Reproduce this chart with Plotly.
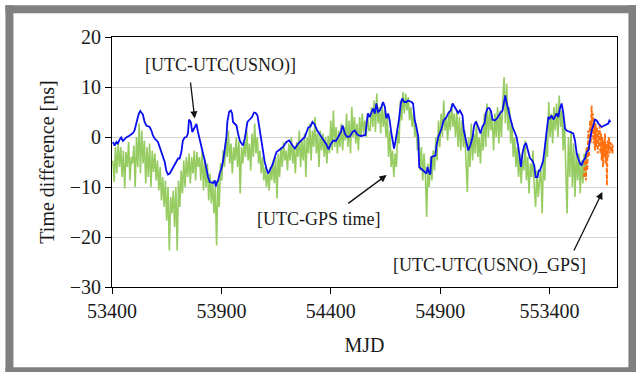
import plotly.graph_objects as go

# ---------------- data ----------------
# [UTC-UTC(USNO)]  (blue)
BLUE_MJD = [53404, 53412, 53420, 53427, 53435, 53442, 53450, 53465, 53481, 53496,
            53503, 53511, 53519, 53523, 53529, 53534, 53541, 53549, 53557, 53572,
            53580, 53587, 53595, 53610, 53618, 53625, 53633, 53641, 53648, 53656,
            53664, 53671, 53679, 53686, 53694, 53702, 53709, 53717, 53724, 53732,
            53740, 53747, 53752, 53760, 53767, 53775, 53786, 53793, 53801, 53809,
            53816, 53824, 53831, 53839, 53847, 53862, 53870, 53874, 53880, 53885,
            53892, 53900, 53908, 53915, 53923, 53927, 53930, 53935, 53943, 53949,
            53953, 53961, 53969, 53976, 53984, 53992, 53999, 54007, 54014, 54019,
            54025, 54033, 54040, 54049, 54057, 54065, 54071, 54077, 54083, 54091,
            54098, 54106, 54113, 54121, 54129, 54136, 54144, 54152, 54167, 54182,
            54197, 54210, 54225, 54236, 54251, 54266, 54281, 54297, 54307, 54316,
            54326, 54338, 54353, 54368, 54380, 54390, 54399, 54411, 54423, 54434,
            54446, 54454, 54464, 54475, 54487, 54499, 54510, 54521, 54536, 54548,
            54558, 54565, 54570, 54578, 54586, 54593, 54601, 54608, 54616, 54624,
            54631, 54639, 54647, 54654, 54662, 54669, 54677, 54685, 54689, 54695,
            54704, 54711, 54720, 54726, 54735, 54746, 54753, 54769, 54776, 54784,
            54791, 54799, 54804, 54811, 54822, 54830, 54837, 54842, 54848, 54855,
            54860, 54878, 54883, 54891, 54898, 54906, 54916, 54929, 54936, 54948,
            54957, 54966, 54974, 54982, 54990, 55002, 55008, 55016, 55023, 55028,
            55039, 55048, 55055, 55063, 55074, 55084, 55093, 55103, 55109, 55116,
            55124, 55132, 55139, 55150, 55161, 55173, 55185, 55193, 55197, 55203,
            55212, 55222, 55231, 55241, 55249, 55257, 55264, 55269, 55276, 55284,
            55292, 55299, 55310, 55322, 55330, 55336, 55345, 55351, 55356, 55371,
            55379, 55386, 55394, 55401, 55409, 55417, 55424, 55432, 55440, 55447,
            55455, 55463, 55470, 55478, 55493, 55508, 55516, 55524, 55531, 55539,
            55546, 55554, 55562, 55569, 55577, 55585, 55592, 55600, 55607, 55615,
            55623, 55638, 55653, 55668, 55673, 55679]
BLUE_NS = [-1.0, -1.7, -1.0, -1.3, -0.5, -0.1, -0.8, -0.1, 0.3, 0.8,
           1.3, 3.0, 4.1, 4.7, 5.2, 4.9, 4.5, 3.0, 2.3, 2.0,
           1.3, 0.3, -0.3, -1.0, -2.0, -3.0, -3.7, -5.0, -6.7, -7.5,
           -7.3, -6.7, -6.0, -5.7, -5.0, -4.3, -4.3, -3.0, -0.7, -0.1,
           0.0, 0.7, 3.5, 3.0, 1.0, 1.8, 2.6, 1.0, -0.3, -2.0,
           -3.3, -4.7, -6.3, -8.0, -9.0, -9.2, -8.7, -9.9, -9.0, -8.7,
           -7.3, -6.3, -4.7, -2.7, 0.0, 3.0, 4.0, 5.0, 5.3, 4.7,
           3.0, 2.7, 2.3, 0.7, -0.7, -1.3, -1.7, -0.3, 1.3, 3.0,
           3.3, 3.7, 4.0, 4.9, 4.8, 4.3, 2.7, 0.7, -1.3, -3.0,
           -5.0, -6.3, -7.3, -6.7, -6.0, -5.3, -4.0, -3.0, -2.5, -2.0,
           -1.0, -0.7, -1.7, -2.3, -1.3, -0.7, 0.0, 1.9, 2.1, 3.0,
           2.5, 1.3, 0.3, -0.7, -1.5, -2.5, -1.5, -0.7, -0.8, 0.0,
           1.0, 2.3, 0.7, 0.0, 0.1, 1.0, 1.3, 0.5, 0.2, 0.3,
           0.4, 3.2, 4.7, 4.0, 5.0, 5.7, 4.7, 6.7, 5.0, 5.3,
           6.0, 7.0, 6.0, 3.7, 4.7, 3.3, 0.7, -1.0, -2.3, -1.0,
           1.3, 3.3, 6.7, 7.7, 7.0, 7.0, 7.3, 7.0, 6.7, 3.3,
           2.0, 0.3, -6.0, -6.3, -6.7, -7.0, -7.3, -6.0, -7.0, -7.5,
           -4.0, -3.7, -1.7, 0.0, 0.7, 1.7, 3.3, 4.0, 4.7, 5.3,
           6.7, 6.0, 5.3, 4.8, 5.3, 4.3, 1.3, -0.3, -1.7, -2.7,
           -1.5, 0.0, 2.3, 3.1, 2.0, 0.7, 2.1, 2.8, 4.8, 5.7,
           5.8, 5.2, 3.5, 3.3, 3.8, 4.7, 5.3, 7.3, 8.3, 7.0,
           5.0, 3.5, 2.0, 1.0, 0.0, -2.0, -4.1, -6.0, -3.3, -1.7,
           -1.2, -2.5, -4.2, -4.8, -5.7, -8.0, -8.0, -6.7, -6.7, -4.7,
           -2.0, 0.7, 4.0, 3.7, 4.3, 3.5, 4.0, 4.7, 4.0, 5.7,
           6.7, 4.7, 1.7, 1.3, 1.0, 0.7, -0.7, -3.3, -4.3, -5.3,
           -5.7, -4.7, -4.3, -3.0, -2.7, 0.0, 1.3, 2.3, 3.5, 3.3,
           2.7, 2.0, 2.3, 2.7, 3.3, 3.0]

# [UTC-GPS time]  (green), sampled every GREEN_STEP days from GREEN_START
GREEN_START = 53404
GREEN_STEP = 6
GREEN_NS = [
    # 53404 ...
    -4.7, -9, -2, -7.3, -1.3, -6, -2, -8, -2.7, -10.3,
    -3, -6, -1, -8.7, -4, -5.3, -1.7, -10, 0, -6,
    2.7, -7.3, 1.3, -5.3, -0.7, -9.3, -2, -8, -1.3, -10,
    -2.7, -7, -3.3, -8.7, -4.7, -10.7, -6, -12.7, -8, -14,
    -8.7, -16.7, -10, -22.7, -12, -15.3, -10.7, -18, -10, -22.7,
    -8.7, -14, -6.7, -11.3, -4.7, -10, -4, -8, -3.3, -9.3,
    -4, -7.3, -2.7, -8.7, -3, -6,
    # 53800 ...
    -4, -8.7, -2.7, -10.7, -4.7, -10, -5.3, -12.7, -7.3, -13.3,
    -8.7, -15.3, -10, -21.7, -8.7, -14, -5.3, -8.7, -2.7, -6,
    -0.3, -4, 1.3, -5.3, -1.3, -7.3, -2, -4.7, 0, -6,
    -0.7, -11.3, -2, -5.3, -0.7, -4, 1.3, -4.7, -1.3, -6.7,
    0.7, -4, 2.7, -3.3, 0, -5.3, -2.7, -7.3, -4, -8.7,
    -6, -10, -6.7, -10.7, -6, -8.7, -4.7, -9.3, -4, -12.3,
    -3.3, -8, -2, -6, -1, -4.7,
    # 54196 ...
    -2.7, -6.7, -1.3, -4.7, 0, -5.3, -2, -7.3, -1, -4,
    1.3, -6, -0.7, -4.7, 0.7, -8, 0, -3.3, 2.7, -4.7,
    1.3, -2, 4, -3.3, 0.7, -6, 1.3, -2.7, 0.7, -4,
    0, -5.3, 0.3, -3.3, 3.3, -2.7, 5.3, -2, 2, -3.3,
    1.3, -2, 2.7, -2.7, 2, -0.7, 4.7, -2, 3.3, -3.3,
    6, 0, 4, -1.3, 2.7, -2.7, 4, 0, 4.7, 0.7,
    3.3, 0, 4.7, 1.3,
    # 54580 ...
    1.3, 6, 2, 7.3, 1, 8.7, 2.7, 6, 0.7, 6.7,
    2, 5.3, 0, 4, -4, 1.3, -6, -2.7, -8, -3.3,
    -6, 1.3, -1.3, 7.3, 3.3, 9, 4.7, 8.7, 5.3, 8,
    3.3, 6, 2, 4.7, 0, 2.7, -2.7, 0, -6.7, -2,
    -8.7, -3.3, -7.3, -16, -5.3, -10, -4, -8.7, -2.7, -6.7,
    0, -4.7, 3.3, -2, 4.7, 0, 7.3, 1.3, 4, -0.7,
    5.3, 1.3, 6.7, 2, 4.7,
    # 54970 ...
    0, 5.3, -2, 4, -2.7, 3.3, -2, 1.3, -6.7, -11,
    0, -6, 2.7, -4.7, 0.7, -3.3, 3.3, -4, 0, -5.3,
    1.3, -2.7, 4.7, -2, 6.7, 0, 5.3, 1.3, 4, -2.7,
    4.7, 0, 6, -1.3, 5.3, 0, 7.3, 12, 2.7, 10.7,
    1.3, 6, -1.3, 2.7, -4, 0, -6, -2, -8, -3.3,
    -9.3, -4.7, -6.7, -0.7, -8.7, -4, -11.3, -5.3, -8, -2.7,
    -10, -14, -6.7, -12, -8.7,
    # 55360 ...
    -6.7, -15.3, -4, -8.7, 0, -4, 7, 0, 4.7, -1.3,
    6, 1.3, 6.7, 0, 8.3, 2, 5.3, -2.7, 3.3, -6.7,
    -15.3, 0, -8, 1.3, -10, -1.3, -12, -2.7, -8.7, -3.3,
    -11.3, -4.7, -9.3, -3.3, -8, -2,
]

# [UTC-UTC(USNO)_GPS]  (orange, dashed)
ORANGE_MJD = [55557, 55562, 55566, 55569, 55572, 55577, 55580, 55585, 55588, 55592,
              55595, 55598, 55601, 55604, 55607, 55610, 55613, 55617, 55620, 55623,
              55626, 55629, 55632, 55635, 55638, 55641, 55644, 55647, 55650, 55653,
              55656, 55659, 55662, 55665, 55668, 55671, 55674, 55678, 55681, 55684,
              55687, 55690]
ORANGE_NS = [-8, -4, -8.7, -2, -6.7, 1.3, -4, 3.3, -1.3, 6.3,
             0, 4.7, -1.3, 3.3, -2.7, 2.7, -2, 2, -3.3, 1.3,
             -2, 2.7, -3.3, 0.7, -4.7, 0, -6, -0.7, -4, 0.7,
             -5.3, -1.3, -9.7, -0.7, -4, 0, -3.3, -1, -3, -1.3,
             -3.3, -1.7]

X_TICKS = [53400, 53900, 54400, 54900, 55400]
X_TICK_TEXT = ["53400", "53900", "54400", "54900", "553400"]
Y_TICKS = [-30, -20, -10, 0, 10, 20]

GREEN_MJD = [GREEN_START + GREEN_STEP * i for i in range(len(GREEN_NS))]

# ---------------- figure ----------------
FONT = "Liberation Serif, Times New Roman, serif"
W, H = 636, 372
ML, MR, MT, MB = 112.4, 19.4, 36.7, 85.3
PW, PH = W - ML - MR, H - MT - MB


def px(x):
    return (x - ML) / PW


def py(y):
    return (H - MB - y) / PH


fig = go.Figure()
fig.add_trace(go.Scatter(x=GREEN_MJD, y=GREEN_NS, mode="lines",
                         line=dict(color="#97cc62", width=1.6), name="UTC-GPS time"))
fig.add_trace(go.Scatter(x=ORANGE_MJD, y=ORANGE_NS, mode="lines",
                         line=dict(color="#ff7010", width=1.9, dash="4px,2px"),
                         name="UTC-UTC(USNO)_GPS"))
fig.add_trace(go.Scatter(x=BLUE_MJD, y=BLUE_NS, mode="lines",
                         line=dict(color="#0a0ff0", width=1.8), name="UTC-UTC(USNO)"))

# gray picture frame
GRAY = "#808080"
shapes = []
for (x0, y0, x1, y1) in [(6, 5, 14, 372), (628, 5, 640, 372), (6, 5, 640, 13), (6, 367, 640, 375)]:
    shapes.append(dict(type="rect", xref="paper", yref="paper",
                       x0=px(x0), x1=px(x1), y0=py(y1), y1=py(y0),
                       fillcolor=GRAY, line=dict(width=0), layer="above"))

txt = dict(family=FONT, size=18, color="#1a1a1a")
annotations = [
    dict(x=53894, y=14.3, text="[UTC-UTC(USNO)]", showarrow=False, font=txt,
         xref="x", yref="y"),
    dict(x=54345, y=-16.3, text="[UTC-GPS time]", showarrow=False, font=txt,
         xref="x", yref="y"),
    dict(x=55127, y=-25.7, text="[UTC-UTC(USNO)_GPS]", showarrow=False, font=txt,
         xref="x", yref="y"),
]
for (hx, hy, tx, ty) in [(53778, 3.7, 53758, 11.2),
                         (54655, -7.6, 54473, -13.5),
                         (55641, -11.0, 55508, -23.0)]:
    annotations.append(dict(x=hx, y=hy, ax=tx, ay=ty, xref="x", yref="y",
                            axref="x", ayref="y", text="", showarrow=True,
                            arrowhead=2, arrowsize=1.1, arrowwidth=1.3,
                            arrowcolor="#111111", standoff=0, startstandoff=0))

fig.update_layout(
    width=W, height=H,
    margin=dict(l=ML, r=MR, t=MT, b=MB, pad=0),
    paper_bgcolor="white", plot_bgcolor="white",
    showlegend=False,
    font=dict(family=FONT, size=20, color="#1a1a1a"),
    shapes=shapes,
    annotations=annotations,
    xaxis=dict(range=[53400, 55708], tickvals=X_TICKS, ticktext=X_TICK_TEXT,
               ticks="outside", ticklen=6, tickwidth=1, tickcolor="black",
               showline=True, linecolor="black", linewidth=1, mirror=True,
               showgrid=False, zeroline=False,
               tickfont=dict(family=FONT, size=20, color="#1a1a1a"),
               title=dict(text="MJD", font=dict(family=FONT, size=20, color="#1a1a1a"),
                          standoff=16)),
    yaxis=dict(range=[-30, 20], tickvals=Y_TICKS,
               ticks="outside", ticklen=6, tickwidth=1, tickcolor="black",
               showline=True, linecolor="black", linewidth=1, mirror=True,
               showgrid=True, gridcolor="#d4d4d4", gridwidth=1, zeroline=False,
               tickfont=dict(family=FONT, size=20, color="#1a1a1a"),
               title=dict(text="Time difference [ns]",
                          font=dict(family=FONT, size=20, color="#1a1a1a"),
                          standoff=9)),
)

fig.write_html("out.html",
               config={"displayModeBar": False},
               post_script="document.body.style.margin='0';document.body.style.overflow='hidden';")
